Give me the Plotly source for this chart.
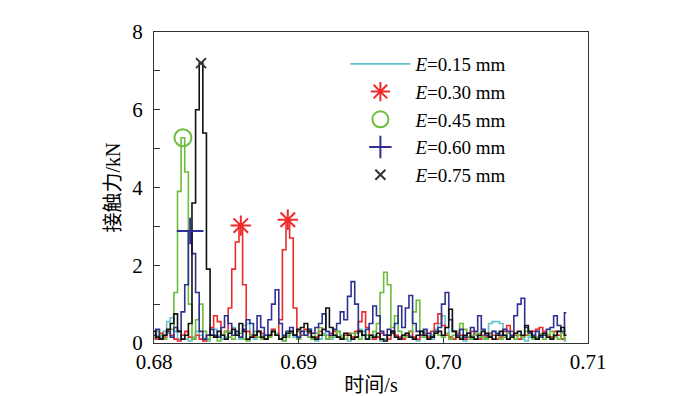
import numpy as np
import plotly.graph_objects as go

# time grid (s)
t_start = 0.68
t_step = 0.00025
n_pts = 115
time = np.round(t_start + t_step * np.arange(n_pts), 5)

labels = ["0.15", "0.30", "0.45", "0.60", "0.75"]

f_015 = [0.1, 0.2, 0.15, 0.3, 0.55, 0.65, 0.3, 0.1, 0.2, 0.1,
         0.05, 0.15, 0.3, 0.2, 0.1, 0.05, 0.2, 0.35, 0.2, 0.1,
         0.15, 0.3, 0.4, 0.25, 0.1, 0.45, 0.5, 0.2, 0.1, 0.3,
         0.2, 0.1, 0.15, 0.35, 0.25, 0.1, 0.05, 0.2, 0.3, 0.15,
         0.1, 0.2, 0.3, 0.35, 0.15, 0.05, 0.1, 0.25, 0.2, 0.1,
         0.15, 0.3, 0.2, 0.1, 0.05, 0.15, 0.25, 0.35, 0.2, 0.1,
         0.1, 0.2, 0.15, 0.05, 0.1, 0.2, 0.3, 0.2, 0.1, 0.15,
         0.25, 0.2, 0.1, 0.05, 0.15, 0.3, 0.2, 0.1, 0.35, 0.5,
         0.7, 0.4, 0.15, 0.1, 0.2, 0.15, 0.05, 0.1, 0.2, 0.25,
         0.15, 0.1, 0.2, 0.5, 0.55, 0.55, 0.5, 0.2, 0.1, 0.15,
         0.25, 0.2, 0.1, 0.05, 0.15, 0.2, 0.1, 0.15, 0.25, 0.2,
         0.1, 0.15, 0.2, 0.1, 0.05]

f_030 = [0.2, 0.1, 0.25, 0.15, 0.3, 0.2, 0.1, 0.05, 0.2, 0.3,
         0.15, 0.1, 0.2, 0.1, 0.05, 0.2, 0.4, 0.7, 0.55, 0.2,
         0.3, 0.9, 1.9, 2.6, 3.02, 1.5, 0.3, 0.2, 0.15, 0.3,
         0.25, 0.1, 0.2, 0.35, 0.2, 0.6, 2.4, 3.17, 2.7, 0.9,
         0.3, 0.2, 0.35, 0.25, 0.1, 0.15, 0.3, 0.2, 0.1, 0.25,
         0.3, 0.15, 0.1, 0.2, 0.25, 0.15, 0.3, 0.55, 0.8, 0.4,
         0.2, 0.1, 0.15, 0.25, 0.2, 0.1, 0.3, 0.2, 0.15, 0.1,
         0.2, 0.3, 0.15, 0.1, 0.2, 0.25, 0.15, 0.3, 0.5, 0.75,
         0.45, 0.2, 0.15, 0.1, 0.25, 0.2, 0.1, 0.15, 0.3, 0.2,
         0.1, 0.2, 0.15, 0.25, 0.2, 0.1, 0.15, 0.3, 0.45, 0.3,
         0.2, 0.1, 0.15, 0.2, 0.25, 0.3, 0.35, 0.4, 0.3, 0.2,
         0.15, 0.3, 0.2, 0.1, 0.2]

f_045 = [0.15, 0.3, 0.2, 0.1, 0.25, 0.35, 1.3, 3.9, 5.28, 4.4,
         1.0, 0.1, 0.6, 1.0, 0.3, 0.1, 0.2, 0.15, 0.05, 0.2,
         0.3, 0.15, 0.1, 0.2, 0.25, 0.1, 0.05, 0.2, 0.3, 0.15,
         0.1, 0.2, 0.15, 0.3, 0.2, 0.1, 0.05, 0.15, 0.25, 0.2,
         0.1, 0.3, 0.2, 0.15, 0.1, 0.25, 0.4, 0.2, 0.1, 0.15,
         0.2, 0.3, 0.15, 0.1, 0.2, 0.25, 0.15, 0.1, 0.3, 0.2,
         0.15, 0.3, 0.5, 1.3, 1.82, 1.5, 0.4, 0.7, 0.3, 0.2,
         0.15, 0.3, 0.8, 1.1, 0.3, 0.15, 0.1, 0.2, 0.3, 0.2,
         0.15, 0.25, 0.1, 0.2, 0.3, 0.5, 0.35, 0.15, 0.1, 0.2,
         0.25, 0.15, 0.1, 0.2, 0.3, 0.2, 0.1, 0.15, 0.25, 0.2,
         0.1, 0.2, 0.15, 0.3, 0.2, 0.1, 0.15, 0.25, 0.1, 0.2,
         0.3, 0.15, 0.1, 0.25, 0.1]

f_060 = [0.2, 0.35, 0.1, 0.2, 0.3, 0.15, 0.4, 0.3, 0.8, 1.5,
         2.88, 2.3, 1.3, 0.3, 0.1, 0.2, 0.35, 0.2, 0.15, 0.4,
         0.7, 0.5, 0.2, 0.3, 0.15, 0.35, 0.6, 0.5, 0.2, 0.7,
         0.4, 0.2, 0.6, 1.0, 1.37, 0.5, 0.2, 0.3, 0.4, 0.2,
         0.15, 0.3, 0.2, 0.35, 0.25, 0.4, 0.5, 0.75, 0.3, 0.2,
         0.35, 0.5, 0.8, 0.6, 1.2, 1.58, 1.0, 0.3, 0.2, 0.35,
         0.5, 0.95, 0.7, 0.3, 0.2, 0.35, 0.25, 0.5, 0.95, 0.4,
         0.9, 1.22, 0.5, 0.3, 0.2, 0.35, 0.25, 0.15, 0.3, 0.4,
         1.0, 1.3, 0.6, 0.3, 0.2, 0.35, 0.15, 0.25, 0.4, 0.3,
         0.7, 0.35, 0.2, 0.15, 0.3, 0.25, 0.2, 0.35, 0.3, 0.2,
         0.7, 1.0, 1.15, 0.4, 0.25, 0.2, 0.3, 0.15, 0.2, 0.35,
         0.4, 0.7, 0.45, 0.3, 0.78]

f_075 = [0.3, 0.15, 0.1, 0.2, 0.35, 0.5, 0.75, 0.3, 0.1, 0.2,
         0.5, 3.6, 6.0, 7.2, 5.4, 1.9, 0.2, 0.15, 0.3, 0.2,
         0.1, 0.25, 0.35, 0.2, 0.5, 0.3, 0.1, 0.15, 0.2, 0.3,
         0.15, 0.1, 0.2, 0.3, 0.2, 0.1, 0.15, 0.25, 0.3, 0.2,
         0.35, 0.4, 0.5, 0.3, 0.15, 0.1, 0.2, 0.35, 0.9, 0.4,
         0.2, 0.15, 0.1, 0.25, 0.2, 0.1, 0.15, 0.3, 0.2, 0.1,
         0.2, 0.15, 0.25, 0.1, 0.05, 0.2, 0.3, 0.15, 0.1, 0.2,
         0.25, 0.15, 0.1, 0.2, 0.3, 0.2, 0.1, 0.15, 0.25, 0.3,
         0.2, 0.4, 0.87, 0.3, 0.15, 0.1, 0.2, 0.25, 0.15, 0.1,
         0.2, 0.3, 0.25, 0.15, 0.1, 0.2, 0.3, 0.2, 0.1, 0.15,
         0.25, 0.3, 0.2, 0.45, 0.3, 0.15, 0.1, 0.2, 0.25, 0.15,
         0.1, 0.2, 0.3, 0.4, 0.2]

series = [f_015, f_030, f_045, f_060, f_075]
colors = ["#62c3cc", "#ee2a2a", "#6cbd3c", "#2e3192", "#111111"]
marker_colors = [None, "#ee2a2a", "#6cbd3c", "#2e3192", "#333333"]
symbols = [None, "asterisk-open", "circle-open", "cross-thin-open", "x-thin-open"]
msizes = [0, 17, 17, 19, 10]
peak_counts = [0, 2, 1, 1, 1]

fig = go.Figure()
for k, (lab, vals) in enumerate(zip(labels, series)):
    name = f"<i>E</i>={lab} mm"
    fig.add_trace(go.Scatter(
        x=time, y=vals, mode="lines", line=dict(color=colors[k], width=1.6, shape="hvh"),
        name=name, showlegend=(k == 0), hoverinfo="skip"))

for k, (lab, vals) in enumerate(zip(labels, series)):
    if k == 0:
        continue
    v = np.array(vals)
    # local maxima, take the highest ones
    loc = [i for i in range(1, len(v) - 1) if v[i] >= v[i - 1] and v[i] >= v[i + 1]]
    loc = sorted(loc, key=lambda i: -v[i])[:peak_counts[k]]
    fig.add_trace(go.Scatter(
        x=time[loc], y=v[loc], mode="markers",
        marker=dict(symbol=symbols[k], size=msizes[k], color=marker_colors[k],
                    line=dict(color=marker_colors[k], width=2)),
        name=f"<i>E</i>={lab} mm", showlegend=True))

font_family = "Times New Roman, Liberation Serif, Noto Sans CJK SC, serif"
fig.update_layout(
    width=700, height=396,
    margin=dict(l=146, r=120, t=18, b=58),
    paper_bgcolor="white", plot_bgcolor="white",
    font=dict(family=font_family, size=21, color="black"),
    legend=dict(x=0.441, y=0.958, xanchor="left", yanchor="top",
                bgcolor="rgba(0,0,0,0)", itemwidth=60,
                font=dict(size=19), tracegroupgap=0),
    xaxis=dict(range=[0.68, 0.71], tickvals=[0.68, 0.69, 0.70, 0.71], tickformat=".2f",
               showline=True, linecolor="#333", linewidth=1, mirror=True,
               ticks="inside", ticklen=5, tickcolor="#333", showgrid=False, zeroline=False,
               title=dict(text="时间/s", standoff=4, font=dict(size=20))),
    yaxis=dict(range=[0, 8], dtick=2, showline=True, linecolor="#333", linewidth=1, mirror=True,
               ticks="inside", ticklen=6, tickcolor="#333", showgrid=False, zeroline=False,
               ticklabelstandoff=6,
               minor=dict(dtick=1, ticks="inside", ticklen=6, tickcolor="#333", showgrid=False),
               title=dict(text="接触力/kN", standoff=6, font=dict(size=20))),
)

fig.write_html("out.html")
